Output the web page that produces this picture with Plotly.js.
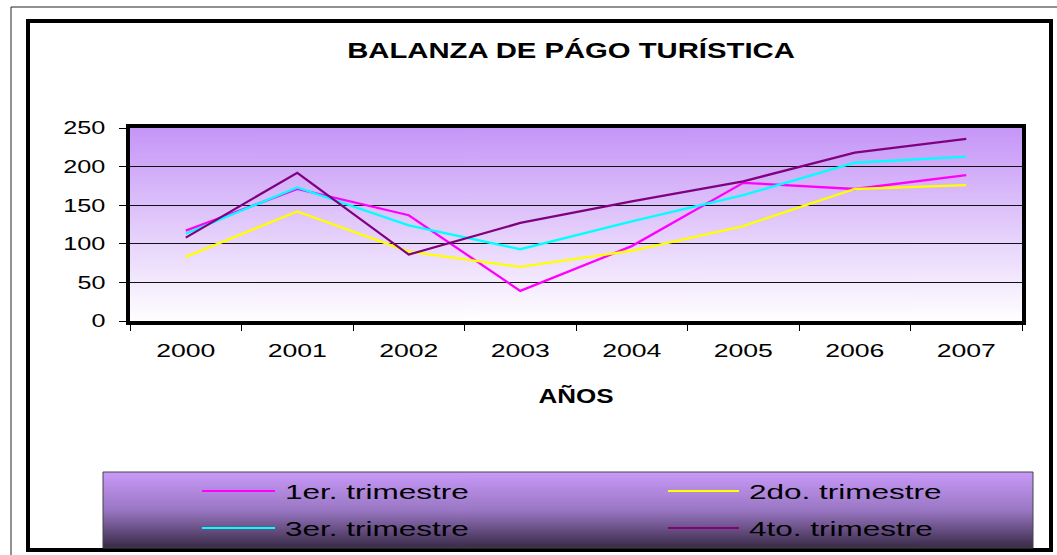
<!DOCTYPE html>
<html>
<head>
<meta charset="utf-8">
<script src="https://cdn.plot.ly/plotly-3.0.1.min.js"></script>
<style>
  html, body { margin: 0; padding: 0; background: #ffffff; }
  #chart { width: 1057px; height: 555px; }
</style>
</head>
<body>
<div id="chart"></div>
<script>
// ---------- data ----------
const years = ['2000', '2001', '2002', '2003', '2004', '2005', '2006', '2007'];
const seriesNames = ['1er. trimestre', '2do. trimestre', '3er. trimestre', '4to. trimestre'];
const q1 = [117, 171, 137, 39, 97, 179, 171, 189];
const q2 = [83, 142, 90, 70, 91, 123, 171, 176];
const q3 = [113, 173, 124, 93, 129, 163, 205, 213];
const q4 = [108, 192, 86, 127, 155, 181, 218, 236];
const yTickVals = [0, 50, 100, 150, 200, 250];
const chartTitle = 'BALANZA DE PÁGO TURÍSTICA';
const xTitle = 'AÑOS';

// ---------- style ----------
const colors = ['#ff00ff', '#ffff00', '#00ffff', '#800080'];
const FONT = 'Liberation Sans, Arial, sans-serif';
const W = 1057, H = 555;
const L = 130, R = 1022, T = 128, B = 321;
const px = x => (x - L) / (R - L);
const py = y => (B - y) / (B - T);

function gradient(stops) {
  const c = document.createElement('canvas');
  c.width = 4; c.height = 256;
  const ctx = c.getContext('2d');
  const g = ctx.createLinearGradient(0, 0, 0, 256);
  stops.forEach(s => g.addColorStop(s[0], s[1]));
  ctx.fillStyle = g;
  ctx.fillRect(0, 0, 4, 256);
  return c.toDataURL('image/png');
}

const allSeries = [q1, q2, q3, q4];
const data = allSeries.map((vals, i) => ({
  type: 'scatter',
  mode: 'lines',
  name: seriesNames[i],
  x: years,
  y: vals,
  line: { color: colors[i], width: 2.3 },
  showlegend: false,
  hoverinfo: 'skip'
}));

// legend layout (manual, two columns)
const legRows = [491, 528];
const legCols = [[202, 275, 283], [668, 739, 747]];
const shapes = [
  // thin outer frame
  { type: 'path', xref: 'paper', yref: 'paper',
    path: `M ${px(11)},${py(560)} L ${px(11)},${py(7)} L ${px(1062)},${py(7)}`,
    line: { color: '#222', width: 1 } },
  // thick chart frame
  { type: 'rect', xref: 'paper', yref: 'paper',
    x0: px(28), x1: px(1051), y0: py(21), y1: py(550),
    line: { color: '#000', width: 4 } },
  // legend box border
  { type: 'rect', xref: 'paper', yref: 'paper',
    x0: px(103), x1: px(1033), y0: py(472), y1: py(548),
    line: { color: '#444', width: 1 } }
];
const annotations = [];
seriesNames.forEach((name, i) => {
  const row = legRows[Math.floor(i / 2)];
  const col = legCols[i % 2];
  shapes.push({ type: 'line', xref: 'paper', yref: 'paper',
    x0: px(col[0]), x1: px(col[1]), y0: py(row), y1: py(row),
    line: { color: colors[i], width: 2 } });
  annotations.push({ xref: 'paper', yref: 'paper', x: px(col[2]), y: py(row),
    xanchor: 'left', yanchor: 'middle', align: 'left', showarrow: false,
    text: name, font: { family: FONT, size: 21, color: '#000' } });
});

const layout = {
  width: W, height: H,
  margin: { l: L, r: W - R, t: T, b: H - B, pad: 0 },
  paper_bgcolor: '#ffffff',
  plot_bgcolor: 'rgba(0,0,0,0)',
  showlegend: false,
  title: {
    text: chartTitle,
    font: { family: FONT, size: 22, weight: 'bold', color: '#000' },
    xref: 'container', yref: 'container',
    x: 571 / W, y: 1 - 50 / H, xanchor: 'center', yanchor: 'middle'
  },
  xaxis: {
    type: 'category',
    range: [-0.5, years.length - 0.5],
    showline: true, linewidth: 4, linecolor: '#000', mirror: true,
    ticks: 'outside', tickson: 'boundaries', ticklen: 6, tickwidth: 1, tickcolor: '#000',
    showgrid: false, zeroline: false,
    tickfont: { family: FONT, size: 19, color: '#000' },
    ticklabelstandoff: 9,
    title: { text: xTitle, font: { family: FONT, size: 20, weight: 'bold', color: '#000' }, standoff: 30 }
  },
  yaxis: {
    range: [0, 250], tickvals: yTickVals, ticktext: yTickVals.map(String),
    showline: true, linewidth: 4, linecolor: '#000', mirror: true,
    ticks: 'outside', ticklen: 7, tickwidth: 1, tickcolor: '#000',
    showgrid: true, gridcolor: '#111', gridwidth: 1, zeroline: false,
    tickfont: { family: FONT, size: 18, color: '#000' },
    ticklabelstandoff: 10
  },
  images: [
    { source: gradient([[0, '#c596f7'], [1, '#ffffff']]), xref: 'paper', yref: 'paper',
      x: 0, y: 1, sizex: 1, sizey: 1, xanchor: 'left', yanchor: 'top',
      sizing: 'stretch', layer: 'below' },
    { source: gradient([[0, '#c99af9'], [0.5, '#9a77c4'], [1, '#382a46']]), xref: 'paper', yref: 'paper',
      x: px(103), y: py(472), sizex: px(1033) - px(103), sizey: py(472) - py(548),
      xanchor: 'left', yanchor: 'top', sizing: 'stretch', layer: 'below' }
  ],
  shapes: shapes,
  annotations: annotations
};

function stretch(sel, f, mode) {
  document.querySelectorAll(sel).forEach(t => {
    const len = t.getComputedTextLength();
    if (len > 0) {
      t.setAttribute('textLength', (len * f).toFixed(1));
      t.setAttribute('lengthAdjust', mode);
    }
  });
}

Plotly.newPlot('chart', data, layout, { staticPlot: true, displayModeBar: false }).then(() => {
  stretch('.xtick text', 1.4, 'spacingAndGlyphs');
  stretch('.ytick text', 1.4, 'spacingAndGlyphs');
  stretch('.gtitle', 1.33, 'spacingAndGlyphs');
  stretch('.g-xtitle text', 1.3, 'spacingAndGlyphs');
  stretch('.annotation-text', 1.5, 'spacingAndGlyphs');
});
</script>
</body>
</html>
